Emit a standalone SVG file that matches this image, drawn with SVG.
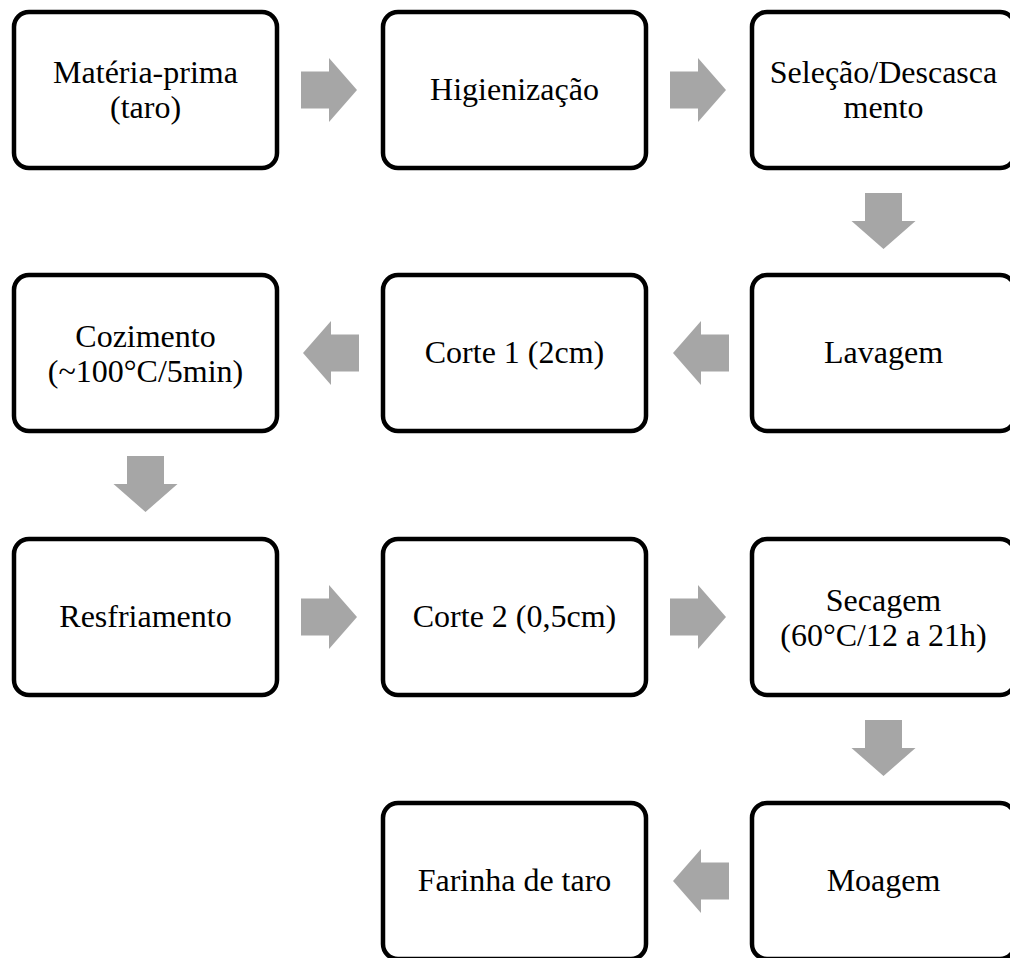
<svg xmlns="http://www.w3.org/2000/svg" xmlns:xlink="http://www.w3.org/1999/xlink" width="1010" height="958" viewBox="0 0 1010 958">
<style>
.box{fill:#fff;stroke:#000;stroke-width:4.5}
.lbl{font-family:"Liberation Serif","Times New Roman",serif;font-size:32px;fill:#000;text-anchor:middle}
.arr{fill:#a6a6a6}
</style>
<defs>
<path id="ar" d="M0,-18.5 H28 V-32 L56,0 L28,32 V18.5 H0 Z"/>
</defs>
<rect width="1010" height="958" fill="#fff"/>
<g id="connectors" class="arr">
<use xlink:href="#ar" href="#ar" transform="translate(301,90)"/>
<use xlink:href="#ar" href="#ar" transform="translate(670,90)"/>
<use xlink:href="#ar" href="#ar" transform="translate(883.5,193) rotate(90)"/>
<use xlink:href="#ar" href="#ar" transform="translate(729,353) rotate(180)"/>
<use xlink:href="#ar" href="#ar" transform="translate(359,353) rotate(180)"/>
<use xlink:href="#ar" href="#ar" transform="translate(145.5,456) rotate(90)"/>
<use xlink:href="#ar" href="#ar" transform="translate(301,617)"/>
<use xlink:href="#ar" href="#ar" transform="translate(670,617)"/>
<use xlink:href="#ar" href="#ar" transform="translate(883.5,720) rotate(90)"/>
<use xlink:href="#ar" href="#ar" transform="translate(729,881) rotate(180)"/>
</g>
<g id="n1"><rect class="box" x="14" y="12" width="263" height="156" rx="15"/><text class="lbl" x="145.5" y="83">Matéria-prima</text><text class="lbl" x="145.5" y="118">(taro)</text></g>
<g id="n2"><rect class="box" x="383" y="12" width="263" height="156" rx="15"/><text class="lbl" x="514.5" y="100">Higienização</text></g>
<g id="n3"><rect class="box" x="752" y="12" width="263" height="156" rx="15"/><text class="lbl" x="883.5" y="83">Seleção/Descasca</text><text class="lbl" x="883.5" y="118">mento</text></g>
<g id="n4"><rect class="box" x="752" y="275" width="263" height="156" rx="15"/><text class="lbl" x="883.5" y="363">Lavagem</text></g>
<g id="n5"><rect class="box" x="383" y="275" width="263" height="156" rx="15"/><text class="lbl" x="514.5" y="363">Corte 1 (2cm)</text></g>
<g id="n6"><rect class="box" x="14" y="275" width="263" height="156" rx="15"/><text class="lbl" x="145.5" y="347">Cozimento</text><text class="lbl" x="145.5" y="382">(~100°C/5min)</text></g>
<g id="n7"><rect class="box" x="14" y="539" width="263" height="156" rx="15"/><text class="lbl" x="145.5" y="627">Resfriamento</text></g>
<g id="n8"><rect class="box" x="383" y="539" width="263" height="156" rx="15"/><text class="lbl" x="514.5" y="627">Corte 2 (0,5cm)</text></g>
<g id="n9"><rect class="box" x="752" y="539" width="263" height="156" rx="15"/><text class="lbl" x="883.5" y="611">Secagem</text><text class="lbl" x="883.5" y="646">(60°C/12 a 21h)</text></g>
<g id="n10"><rect class="box" x="752" y="803" width="263" height="156" rx="15"/><text class="lbl" x="883.5" y="891">Moagem</text></g>
<g id="n11"><rect class="box" x="383" y="803" width="263" height="156" rx="15"/><text class="lbl" x="514.5" y="891">Farinha de taro</text></g>
</svg>
